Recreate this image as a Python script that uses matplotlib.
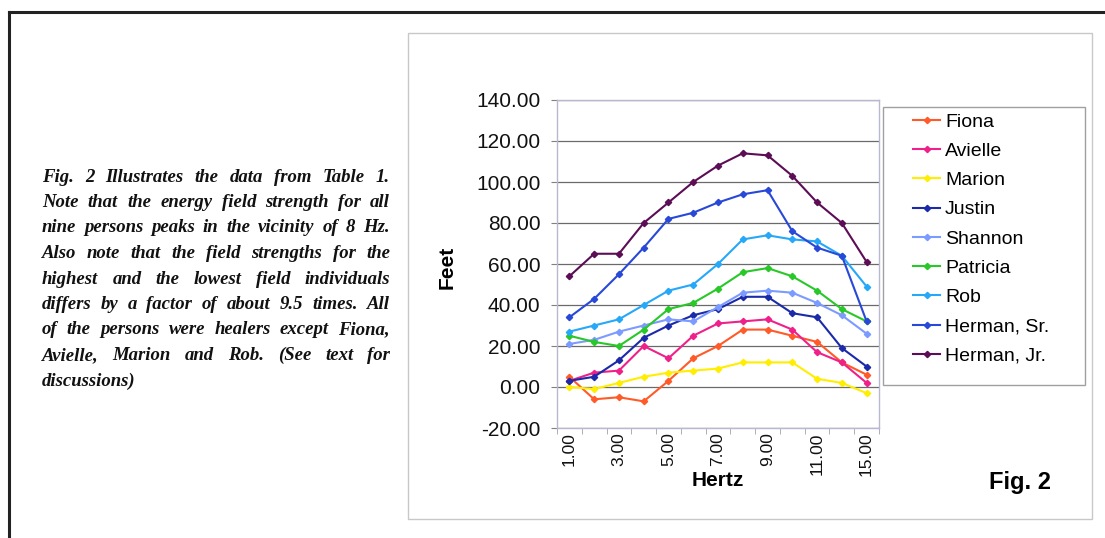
import matplotlib
matplotlib.use("Agg")
import matplotlib.pyplot as plt
from matplotlib.patches import Rectangle
from matplotlib.lines import Line2D

hertz = ["1.00", "2.00", "3.00", "4.00", "5.00", "6.00", "7.00",
         "8.00", "9.00", "10.00", "11.00", "13.00", "15.00"]
shown_ticks = ["1.00", "3.00", "5.00", "7.00", "9.00", "11.00", "15.00"]

names = ["Fiona", "Avielle", "Marion", "Justin", "Shannon",
         "Patricia", "Rob", "Herman, Sr.", "Herman, Jr."]

fiona = [5, -6, -5, -7, 3, 14, 20, 28, 28, 25, 22, 12, 6]
avielle = [3, 7, 8, 20, 14, 25, 31, 32, 33, 28, 17, 12, 2]
marion = [0, -1, 2, 5, 7, 8, 9, 12, 12, 12, 4, 2, -3]
justin = [3, 5, 13, 24, 30, 35, 38, 44, 44, 36, 34, 19, 10]
shannon = [21, 23, 27, 30, 33, 32, 39, 46, 47, 46, 41, 35, 26]
patricia = [25, 22, 20, 28, 38, 41, 48, 56, 58, 54, 47, 38, 32]
rob = [27, 30, 33, 40, 47, 50, 60, 72, 74, 72, 71, 64, 49]
herman_sr = [34, 43, 55, 68, 82, 85, 90, 94, 96, 76, 68, 64, 32]
herman_jr = [54, 65, 65, 80, 90, 100, 108, 114, 113, 103, 90, 80, 61]

colors = ["#FF5A28", "#F0208A", "#FFEE00", "#1A2AA8", "#7C9BFF",
          "#28C828", "#26A8F8", "#2848D8", "#5C0D55"]

caption = [
    "Fig. 2 Illustrates the data from Table 1.",
    "Note that the energy field strength for all",
    "nine persons peaks in the vicinity of 8 Hz.",
    "Also note that the field strengths for the",
    "highest and the lowest field individuals",
    "differs by a factor of about 9.5 times. All",
    "of the persons were healers except Fiona,",
    "Avielle, Marion and Rob. (See text for",
    "discussions)",
]

W, H = 1105, 538


def justify(fig, lines, x0, x1, y0, step, **kw):
    r = fig.canvas.get_renderer()
    for i, line in enumerate(lines):
        y = 1 - (y0 + i * step) / H
        words = line.split()
        texts = [fig.text(0, y, w, va="center", ha="left", **kw) for w in words]
        widths = [t.get_window_extent(r).width for t in texts]
        if i == len(lines) - 1 or len(words) == 1:
            gap = 5
        else:
            gap = (x1 - x0 - sum(widths)) / (len(words) - 1)
        x = x0
        for t, w in zip(texts, widths):
            t.set_x(x / W)
            x += w + gap


def main():
    plt.rcParams["font.family"] = ["Liberation Sans", "DejaVu Sans"]
    fig = plt.figure(figsize=(W / 100, H / 100), dpi=100)
    fig.patch.set_facecolor("white")

    # outer frame (top and left only)
    fig.add_artist(Line2D([9 / W, 1], [1 - 12 / H, 1 - 12 / H], color="#222222",
                          lw=2.2, transform=fig.transFigure))
    fig.add_artist(Line2D([9 / W, 9 / W], [0, 1 - 12 / H], color="#222222",
                          lw=2.2, transform=fig.transFigure))

    # chart area box
    fig.add_artist(Rectangle((408 / W, 1 - 519 / H), (1092 - 408) / W,
                             (519 - 33) / H, transform=fig.transFigure,
                             fill=False, ec="#c8c8c8", lw=1))

    ax = fig.add_axes([557 / W, 1 - 428 / H, (879 - 557) / W, (428 - 100) / H])
    series = [fiona, avielle, marion, justin, shannon, patricia, rob,
              herman_sr, herman_jr]
    x = list(range(len(hertz)))
    for name, vals, c in zip(names, series, colors):
        ax.plot(x, vals, color=c, lw=1.5, marker="D", ms=3.2, label=name)

    ax.set_xlim(-0.5, len(hertz) - 0.5)
    ax.set_ylim(-20, 140)
    ax.set_yticks(range(-20, 141, 20))
    ax.set_yticklabels([f"{v:.2f}" for v in range(-20, 141, 20)])
    tick_pos = [hertz.index(t) for t in shown_ticks]
    ax.set_xticks(tick_pos)
    ax.set_xticklabels(shown_ticks, rotation=90)
    ax.set_xticks([i + 0.5 for i in range(-1, len(hertz))], minor=True)
    ax.tick_params(axis="y", labelsize=15, length=4, pad=8, color="#808080",
                   labelcolor="#111111")
    ax.tick_params(axis="x", which="major", labelsize=12.5, length=0, pad=3,
                   labelcolor="#111111")
    ax.tick_params(axis="x", which="minor", length=4, color="#a0a0b8")
    ax.grid(axis="y", color="#6a6a6a", lw=0.9)
    ax.set_axisbelow(True)
    for s in ax.spines.values():
        s.set_color("#b8b8d0")
        s.set_linewidth(1)

    fig.text(447 / W, 1 - 267 / H, "Feet", rotation=90, fontsize=15,
             fontweight="bold", ha="center", va="center")
    fig.text(718 / W, 1 - 481 / H, "Hertz", fontsize=15, fontweight="bold",
             ha="center", va="center")
    fig.text(1020 / W, 1 - 483 / H, "Fig. 2", fontsize=17, fontweight="bold",
             ha="center", va="center")

    # legend box
    fig.add_artist(Rectangle((883 / W, 1 - 385 / H), (1085 - 883) / W,
                             (385 - 107) / H, transform=fig.transFigure,
                             fill=False, ec="#a0a0a0", lw=1))
    fig.legend(loc="upper left", bbox_to_anchor=(913 / W, 1 - 113 / H),
               frameon=False, fontsize=14, borderpad=0, borderaxespad=0,
               handlelength=1.4, handletextpad=0.25, labelspacing=0.6)

    justify(fig, caption, 42, 390, 177, 25.5, family="Liberation Serif",
            style="italic", fontweight="bold", fontsize=13.5, color="#111111")

    fig.savefig("out.png", dpi=100)


if __name__ == "__main__":
    main()
